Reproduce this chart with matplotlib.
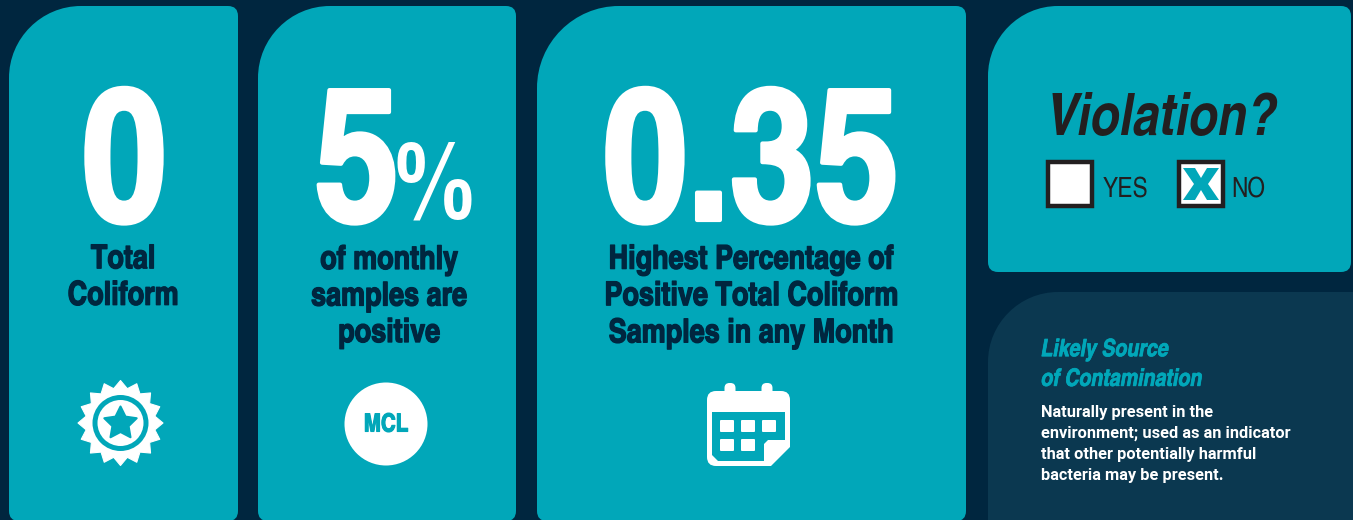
import numpy as np
import matplotlib
matplotlib.use('Agg')
import matplotlib.pyplot as plt
import matplotlib.patheffects as pe
from matplotlib.path import Path
from matplotlib.patches import PathPatch, Circle, Rectangle, FancyBboxPatch, Polygon

BG = '#00263f'
TEAL = '#01a7b9'
DARK = '#0b3850'
NAVY = '#00263f'
INK = '#231f20'
WHITE = '#ffffff'
NARROW = ['TeX Gyre Heros Cn', 'DejaVu Sans']
SANS = ['Roboto', 'DejaVu Sans']

big_values = ['0', '5', '0.35']
captions = ['Total\nColiform', 'of monthly\nsamples are\npositive',
            'Highest Percentage of\nPositive Total Coliform\nSamples in any Month']
question = 'Violation?'
options = ['YES', 'NO']
source_title = 'Likely Source\nof Contamination'
source_text = ('Naturally present in the\nenvironment; used as an indicator\n'
               'that other potentially harmful\nbacteria may be present.')

fig = plt.figure(figsize=(13.53, 5.2), dpi=100, facecolor=BG)
ax = fig.add_axes([0, 0, 1, 1])
ax.set_xlim(0, 1353)
ax.set_ylim(520, 0)
ax.axis('off')


def panel(x0, y0, x1, y1, big_r, small_r, color):
    k = 0.45
    verts = [(x0, y0 + big_r), (x0, y0 + big_r * k), (x0 + big_r * k, y0), (x0 + big_r, y0),
             (x1 - small_r, y0), (x1, y0), (x1, y0 + small_r),
             (x1, y1 - small_r), (x1, y1), (x1 - small_r, y1),
             (x0 + small_r, y1), (x0, y1), (x0, y1 - small_r),
             (x0, y0 + big_r)]
    codes = [Path.MOVETO, Path.CURVE4, Path.CURVE4, Path.CURVE4,
             Path.LINETO, Path.CURVE3, Path.CURVE3,
             Path.LINETO, Path.CURVE3, Path.CURVE3,
             Path.LINETO, Path.CURVE3, Path.CURVE3,
             Path.CLOSEPOLY]
    ax.add_patch(PathPatch(Path(verts, codes), fc=color, ec='none', zorder=1))


def fat(lw, color):
    return [pe.withStroke(linewidth=lw, foreground=color)]


panel(9, 6, 238, 521, 72, 10, TEAL)
panel(258, 6, 516, 521, 72, 10, TEAL)
panel(537, 6, 966, 521, 82, 10, TEAL)
panel(988, 6, 1351, 272, 70, 10, TEAL)
panel(988, 292, 1375, 540, 70, 10, DARK)

# big numbers
big = dict(family=NARROW, weight='bold', color=WHITE, va='baseline', zorder=3)
ax.text(124, 220, big_values[0], ha='center', fontsize=134, path_effects=fat(3, WHITE), **big)
ax.text(357, 220, big_values[1], ha='center', fontsize=134, path_effects=fat(3, WHITE), **big)
ax.text(434, 219, '%', ha='center', fontsize=78, **big)
ax.text(751, 220, big_values[2], ha='center', fontsize=134, path_effects=fat(3, WHITE), **big)

# captions
cap = dict(family=NARROW, weight='bold', color=NAVY, ha='center', va='center',
           fontsize=23.7, linespacing=1.23, zorder=3, path_effects=fat(0.9, NAVY))
ax.text(123, 278, captions[0], **cap)
ax.text(389, 297, captions[1], **cap)
ax.text(751, 297, captions[2], **cap)

# badge icon
cx, cy = 120.5, 423
n = 16
ang = np.linspace(0, 2 * np.pi, 2 * n, endpoint=False) - np.pi / 2
rad = np.where(np.arange(2 * n) % 2 == 0, 42.5, 35)
ax.add_patch(Polygon(np.c_[cx + rad * np.cos(ang), cy + rad * np.sin(ang)],
                     fc=WHITE, ec=WHITE, lw=0.8, joinstyle='round', zorder=3))
ax.add_patch(Circle((cx, cy), 28, fc=TEAL, ec='none', zorder=4))
ax.add_patch(Circle((cx, cy), 23, fc=WHITE, ec='none', zorder=4))
ang = np.linspace(0, 2 * np.pi, 10, endpoint=False) - np.pi / 2
rad = np.where(np.arange(10) % 2 == 0, 17, 8.5)
ax.add_patch(Polygon(np.c_[cx + rad * np.cos(ang), cy + 0.5 + rad * np.sin(ang)],
                     fc=TEAL, ec=TEAL, lw=1.5, joinstyle='round', zorder=5))

# MCL icon
ax.add_patch(Circle((386, 424), 41.5, fc=WHITE, ec='none', zorder=3))
ax.text(386, 425, 'MCL', family=NARROW, weight='bold', color=TEAL, ha='center', va='center',
        fontsize=18, zorder=4, path_effects=fat(0.8, TEAL))

# calendar icon
ax.add_patch(FancyBboxPatch((707, 391), 83, 75, boxstyle='round,pad=0,rounding_size=9',
                            fc=WHITE, ec='none', zorder=3))
for px in (730, 767):
    ax.add_patch(FancyBboxPatch((px - 5.5, 383), 11, 14, boxstyle='round,pad=0,rounding_size=5',
                                fc=WHITE, ec='none', zorder=3))
ax.add_patch(Polygon([(712, 412), (785, 412), (785, 440), (768, 440), (764, 444), (764, 461),
                      (718, 461), (712, 455)], fc=TEAL, ec='none', zorder=4))
ax.add_patch(Polygon([(770, 467), (792, 445), (792, 467)], fc=TEAL, ec='none', zorder=4))
for px in (720, 741, 762):
    ax.add_patch(FancyBboxPatch((px, 420), 14, 12, boxstyle='round,pad=0,rounding_size=1',
                                fc=WHITE, ec='none', zorder=5))
for px in (720, 741):
    ax.add_patch(FancyBboxPatch((px, 439), 14, 12, boxstyle='round,pad=0,rounding_size=1',
                                fc=WHITE, ec='none', zorder=5))

# violation box
ax.text(1046, 135, question, family=NARROW, weight='bold', style='italic', color=INK,
        ha='left', va='baseline', fontsize=42, zorder=3)
for px in (1048, 1179):
    ax.add_patch(Rectangle((px, 162), 44, 44, fc=WHITE, ec=INK, lw=3.2, zorder=3))
ax.text(1103, 197, options[0], family=NARROW, color=INK, ha='left', va='baseline', fontsize=20, zorder=3)
ax.text(1231, 197, options[1], family=NARROW, color=INK, ha='left', va='baseline', fontsize=20, zorder=3)
ax.add_patch(Polygon([(1183, 168), (1195, 168), (1201, 178), (1207, 168), (1219, 168), (1208, 184),
                      (1219, 200), (1207, 200), (1201, 190), (1195, 200), (1183, 200), (1194, 184)],
                     fc=TEAL, ec='none', zorder=4))

# source box
ax.text(1041, 365, source_title, family=NARROW, weight='bold', style='italic', color=TEAL,
        ha='left', va='center', fontsize=17.2, linespacing=1.45, zorder=3,
        path_effects=fat(0.5, TEAL))
ax.text(1041, 444, source_text, family=SANS, weight='bold', color=WHITE,
        ha='left', va='center', fontsize=11.8, linespacing=1.48, zorder=3)

fig.savefig('out.png', dpi=100, facecolor=BG)
